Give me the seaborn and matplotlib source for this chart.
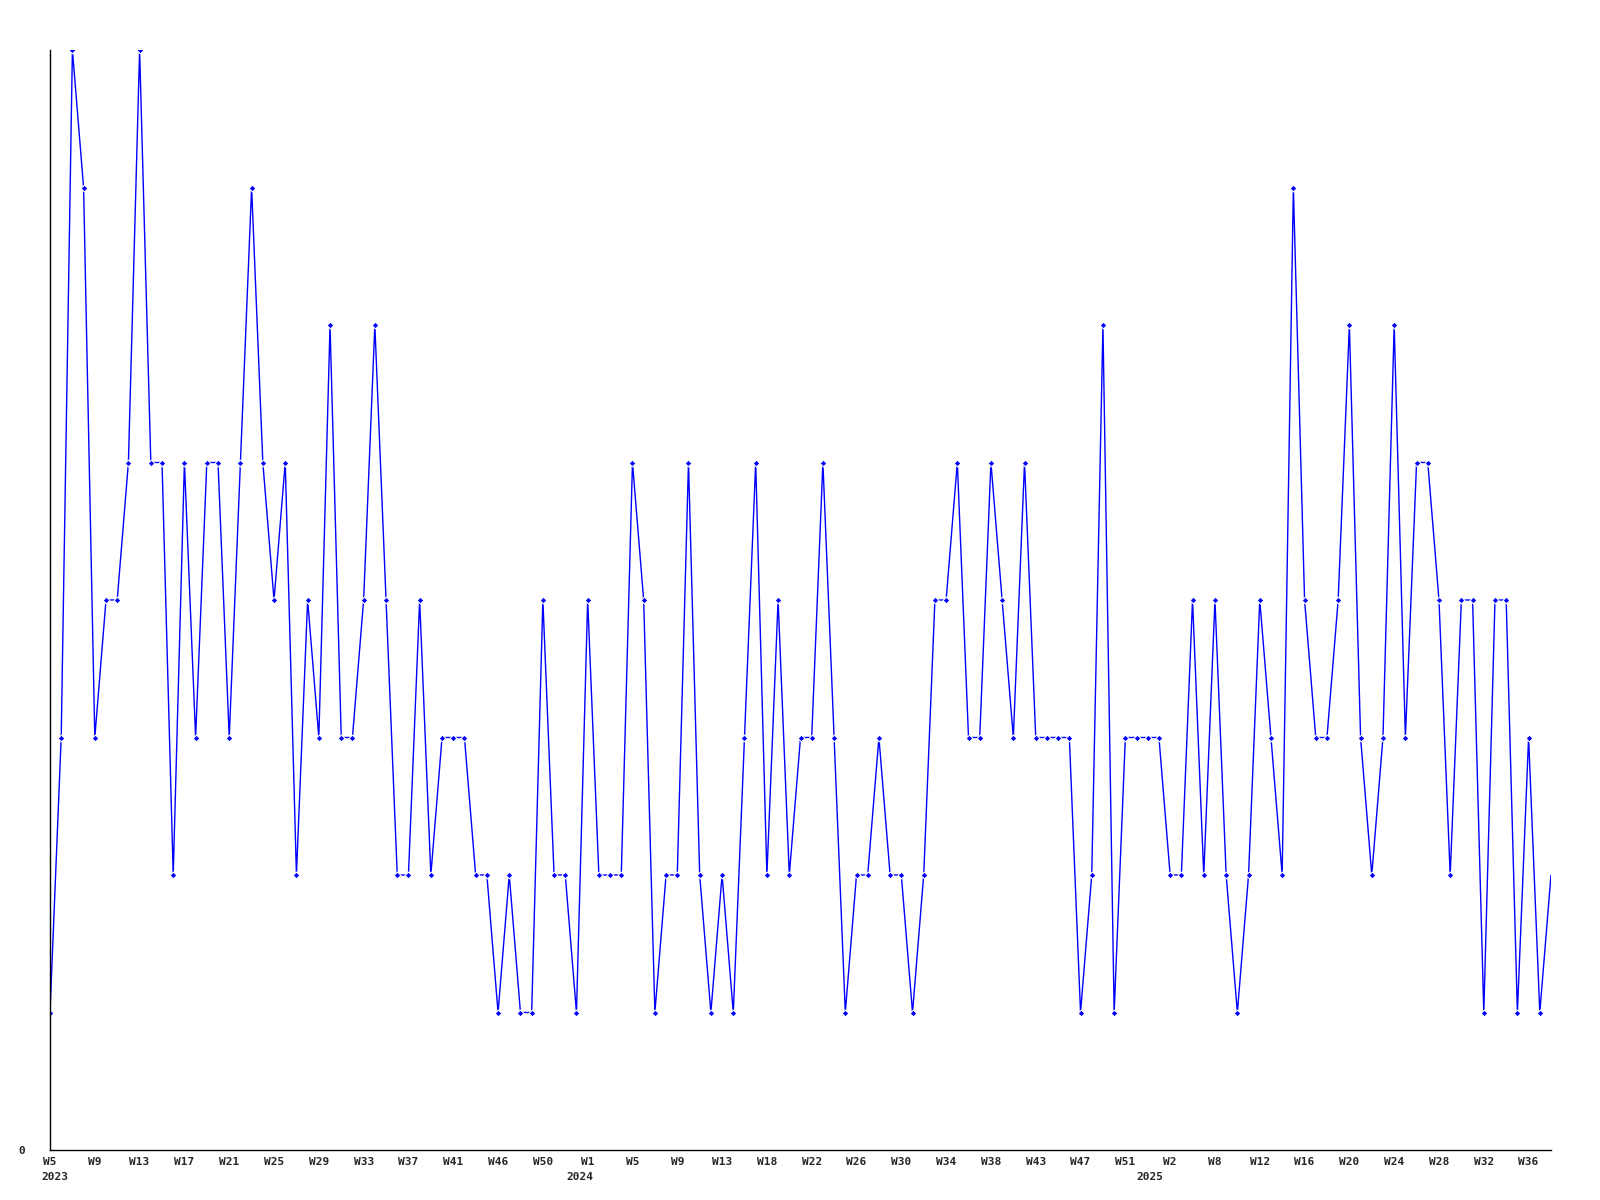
import matplotlib
matplotlib.use("Agg")
import matplotlib.pyplot as plt
import seaborn as sns
import pandas as pd

# weekly counts, starting at W5 2023
values = [1, 3, 8, 7, 3, 4, 4, 5, 8, 5, 5, 2, 5, 3, 5, 5, 3, 5, 7, 5,
          4, 5, 2, 4, 3, 6, 3, 3, 4, 6, 4, 2, 2, 4, 2, 3, 3, 3, 2, 2,
          1, 2, 1, 1, 4, 2, 2, 1, 4, 2, 2, 2, 5, 4, 1, 2, 2, 5, 2, 1,
          2, 1, 3, 5, 2, 4, 2, 3, 3, 5, 3, 1, 2, 2, 3, 2, 2, 1, 2, 4,
          4, 5, 3, 3, 5, 4, 3, 5, 3, 3, 3, 3, 1, 2, 6, 1, 3, 3, 3, 3,
          2, 2, 4, 2, 4, 2, 1, 2, 4, 3, 2, 7, 4, 3, 3, 4, 6, 3, 2, 3,
          6, 3, 5, 5, 4, 2, 4, 4, 1, 4, 4, 1, 3, 1, 2]

# labels shown on every 4th point
week_ticks = ['W5', 'W9', 'W13', 'W17', 'W21', 'W25', 'W29', 'W33', 'W37', 'W41',
              'W46', 'W50', 'W1', 'W5', 'W9', 'W13', 'W18', 'W22', 'W26', 'W30',
              'W34', 'W38', 'W43', 'W47', 'W51', 'W2', 'W8', 'W12', 'W16', 'W20',
              'W24', 'W28', 'W32', 'W36']
# year labels sit where the new year starts (in weeks from the first point)
years = ['2023', '2024', '2025']
year_starts = [0.4, 47.3, 98.2]

df = pd.DataFrame({'idx': range(len(values)), 'count': values})

sns.set_style("white")
plt.rcParams['font.family'] = ['DejaVu Sans Mono']

fig = plt.figure(figsize=(16, 12), dpi=100)
ax = fig.add_axes([50 / 1600, 50 / 1200, 1501 / 1600, 1100 / 1200])

sns.lineplot(data=df, x='idx', y='count', ax=ax, color='#0000ff', linewidth=1,
             marker='D', markersize=3.5, markeredgewidth=0.8,
             markevery=list(range(len(values) - 1)))

ax.set_xlim(0, len(values) - 1)
ax.set_ylim(0, 8)

tick_pos = list(range(0, len(values), 4))[:len(week_ticks)]
ax.set_xticks(tick_pos)
ax.set_xticklabels(week_ticks, fontsize=8, fontweight='bold')
ax.set_yticks([0])
ax.set_yticklabels(['0'], fontsize=8, fontweight='bold')
ax.tick_params(axis='x', length=0, pad=5)
ax.tick_params(axis='y', length=0, pad=18)

for y, xs in zip(years, year_starts):
    ax.annotate(y, xy=(xs, 0), xycoords=('data', 'axes fraction'),
                xytext=(0, -16), textcoords='offset points',
                ha='center', va='top', fontsize=8, fontweight='bold')

for s in ['top', 'right']:
    ax.spines[s].set_visible(False)
for s in ['left', 'bottom']:
    ax.spines[s].set_color('black')
    ax.spines[s].set_linewidth(1)

ax.set_xlabel('')
ax.set_ylabel('')
ax.grid(False)

fig.savefig('out.png', dpi=100)
